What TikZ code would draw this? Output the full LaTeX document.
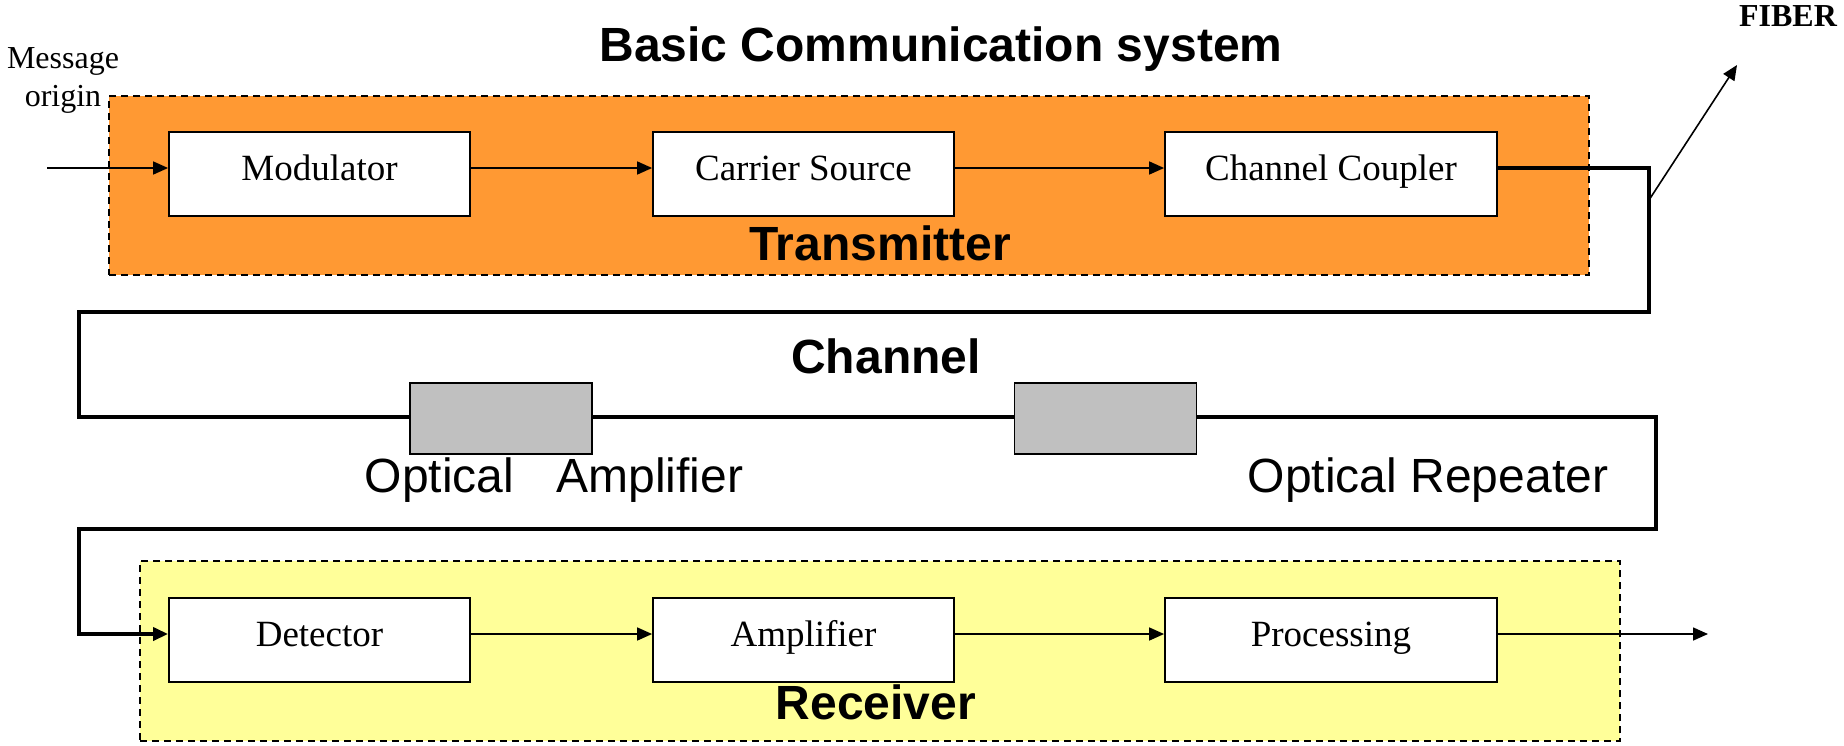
\documentclass[tikz,border=0pt]{standalone}
\usepackage{fontspec}
\setmainfont{Liberation Serif}
\newfontfamily\arialfont{Liberation Sans}
\usetikzlibrary{arrows.meta}
\definecolor{txorange}{RGB}{255,153,51}
\definecolor{rxyellow}{RGB}{255,255,153}
\definecolor{boxgray}{RGB}{192,192,192}
\begin{document}
\begin{tikzpicture}[x=1pt,y=-1pt,
  blk/.style={draw, line width=1.8pt, fill=white, minimum height=84pt, inner sep=0pt,
    font=\fontsize{37}{44}\selectfont, text height=30pt, text depth=17.6pt},
  grp/.style={draw, dash pattern=on 7pt off 5pt, line width=1.6pt, minimum width=1480pt, minimum height=180pt, inner sep=0pt},
  rpt/.style={draw, line width=1.8pt, fill=boxgray, minimum width=182pt, minimum height=71pt, inner sep=0pt},
  tip/.style={-{Triangle[length=15pt,width=13pt]}},
  flow/.style={line width=1.6pt, tip},
  fib/.style={line width=3.5pt},
  head/.style={font=\arialfont\fontsize{48}{56}\selectfont\bfseries, inner sep=0pt},
  lbl/.style={font=\arialfont\fontsize{48}{56}\selectfont, inner sep=0pt}
]
\useasboundingbox (0,0) rectangle (1844,745);

% group containers
\node[grp, fill=txorange, minimum height=179pt] (tx) at (849,185.5) {};
\node[grp, fill=rxyellow] (rx) at (880,651) {};

% titles and labels
\node[head, anchor=base] (title) at (941,61) {Basic Communication system};
\node[head, anchor=base] (txl) at (880,260) {Transmitter};
\node[head, anchor=base] (chl) at (886,373) {Channel};
\node[head, anchor=base] (rxl) at (876,719) {Receiver};
\node[align=center, font=\fontsize{32}{38}\selectfont, inner sep=0pt] (msg) at (63,80) {Message\\origin};
\node[font=\fontsize{32}{38}\selectfont\bfseries, anchor=base, inner sep=0pt] (fiber) at (1788,26) {FIBER};

% transmitter blocks
\node[blk, minimum width=301pt] (mod) at (319.5,174) {Modulator};
\node[blk, minimum width=301pt] (car) at (803.5,174) {Carrier Source};
\node[blk, minimum width=332pt] (cpl) at (1331,174) {Channel Coupler};

% receiver blocks
\node[blk, minimum width=301pt] (det) at (319.5,640) {Detector};
\node[blk, minimum width=301pt] (amp) at (803.5,640) {Amplifier};
\node[blk, minimum width=332pt] (prc) at (1331,640) {Processing};

% coordinates
\coordinate (in) at (47,168);
\coordinate (out) at (1708,634);
\coordinate (c1) at (1649,168);
\coordinate (c2) at (1649,312);
\coordinate (c3) at (79,312);
\coordinate (c4) at (79,417);
\coordinate (c5) at (1656,417);
\coordinate (c6) at (1656,529);
\coordinate (c7) at (79,529);
\coordinate (c8) at (79,634);
\coordinate (fs) at (1649,200);
\coordinate (fe) at (1737,65);

% transmitter flow
\draw[flow] (in) -- ([yshift=6pt]mod.west);
\draw[flow] ([yshift=6pt]mod.east) -- ([yshift=6pt]car.west);
\draw[flow] ([yshift=6pt]car.east) -- ([yshift=6pt]cpl.west);

% channel fibre
\draw[fib, tip] ([yshift=6pt]cpl.east) -- (c1) -- (c2) -- (c3) -- (c4) -- (c5) -- (c6) -- (c7) -- (c8) -- ([yshift=6pt]det.west);
\draw[flow] (fs) -- (fe);

% in-line devices
\node[rpt] (oa) at (501,418.5) {};
\node[rpt] (orp) at (1105.5,418.5) {};
\node[lbl, anchor=base] (oal) at (554,492) {Optical\hspace*{42pt}Amplifier};
\node[lbl, anchor=base] (orl) at (1428,492) {Optical Repeater};

% receiver flow
\draw[flow] ([yshift=6pt]det.east) -- ([yshift=6pt]amp.west);
\draw[flow] ([yshift=6pt]amp.east) -- ([yshift=6pt]prc.west);
\draw[flow] ([yshift=6pt]prc.east) -- (out);
\end{tikzpicture}
\end{document}
